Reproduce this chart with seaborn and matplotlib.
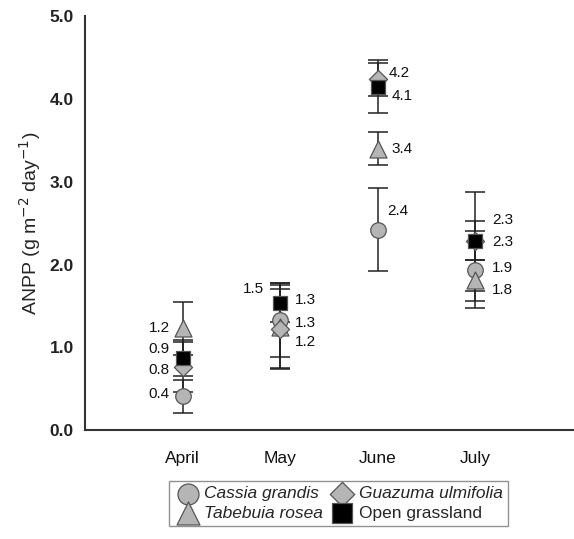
import numpy as np
import pandas as pd
import matplotlib
matplotlib.use("Agg")
import matplotlib.pyplot as plt
import seaborn as sns

months = ["April", "May", "June", "July"]
series = ["Cassia grandis", "Tabebuia rosea", "Guazuma ulmifolia", "Open grassland"]

# mean ANPP (g m-2 day-1) per month
cassia = [0.41, 1.33, 2.42, 1.94]
tabebuia = [1.23, 1.25, 3.40, 1.81]
guazuma = [0.76, 1.22, 4.24, 2.28]
grassland = [0.87, 1.54, 4.15, 2.29]

# error bar half widths
cassia_err = [0.20, 0.45, 0.50, 0.46]
tabebuia_err = [0.32, 0.50, 0.20, 0.25]
guazuma_err = [0.30, 0.48, 0.20, 0.60]
grassland_err = [0.22, 0.24, 0.32, 0.23]

# printed value labels
cassia_lbl = ["0.4", "1.3", "2.4", "1.9"]
tabebuia_lbl = ["1.2", "1.3", "3.4", "1.8"]
guazuma_lbl = ["0.8", "1.2", "4.2", "2.3"]
grassland_lbl = ["0.9", "1.5", "4.1", "2.3"]

# label offsets in pixels (dx, dy up)
cassia_off = [(-13, 2), (15, 20), (10, 19), (17, 2)]
tabebuia_off = [(-13, 0), (15, 4), (14, 0), (17, -10)]
guazuma_off = [(-13, -3), (15, -13), (11, 6), (17, 21)]
grassland_off = [(-13, 9), (-16, 14), (14, -9), (17, -1)]

rows = []
for name, vals, errs, lbls, offs in [
    ("Cassia grandis", cassia, cassia_err, cassia_lbl, cassia_off),
    ("Tabebuia rosea", tabebuia, tabebuia_err, tabebuia_lbl, tabebuia_off),
    ("Guazuma ulmifolia", guazuma, guazuma_err, guazuma_lbl, guazuma_off),
    ("Open grassland", grassland, grassland_err, grassland_lbl, grassland_off),
]:
    for i, m in enumerate(months):
        rows.append(dict(series=name, month=m, pos=i + 1, anpp=vals[i], err=errs[i],
                         lbl=lbls[i], dx=offs[i][0], dy=offs[i][1]))
df = pd.DataFrame(rows)

sns.set_style("white")
plt.rcParams["font.family"] = ["Liberation Sans", "DejaVu Sans"]

fig = plt.figure(figsize=(5.74, 5.39), dpi=100)
ax = fig.add_axes([0.148, 0.202, 0.850, 0.768])

# error bars first, markers on top
for _, r in df.iterrows():
    ax.errorbar(r["pos"], r["anpp"], yerr=r["err"], fmt="none", ecolor="#222222",
                elinewidth=1.1, capsize=7, capthick=1.1, zorder=1)

markers = {"Cassia grandis": "o", "Tabebuia rosea": "^",
           "Guazuma ulmifolia": "D", "Open grassland": "s"}
palette = {"Cassia grandis": "#b5b5b5", "Tabebuia rosea": "#b5b5b5",
           "Guazuma ulmifolia": "#b5b5b5", "Open grassland": "#000000"}
sizes = {"Cassia grandis": 125, "Tabebuia rosea": 150,
         "Guazuma ulmifolia": 85, "Open grassland": 115}

for name in series:
    sub = df[df["series"] == name]
    sns.scatterplot(data=sub, x="pos", y="anpp", marker=markers[name],
                    color=palette[name], s=sizes[name], edgecolor="#555555",
                    linewidth=0.9, ax=ax, zorder=3, label=name)

# value labels
for _, r in df.iterrows():
    ha = "right" if r["dx"] < 0 else "left"
    ax.annotate(r["lbl"], (r["pos"], r["anpp"]),
                xytext=(r["dx"] * 0.72, r["dy"] * 0.72), textcoords="offset points",
                ha=ha, va="center", fontsize=11, color="#111111")

ax.set_xlim(0, 5)
ax.set_ylim(0, 5)
ax.set_xticks(range(6))
ax.set_xticklabels([""] + months + [""], fontsize=12.5, color="#111111")
ax.set_yticks(np.arange(0, 5.01, 1.0))
ax.set_yticklabels([f"{v:.1f}" for v in np.arange(0, 5.01, 1.0)], fontsize=12.5,
                   fontweight="bold", color="#222222")
ax.tick_params(axis="x", length=3, width=1.2, color="#333333", pad=12)
ax.tick_params(axis="y", length=4, width=1.2, color="#333333", pad=4)
for s in ["top", "right"]:
    ax.spines[s].set_visible(False)
for s in ["left", "bottom"]:
    ax.spines[s].set_color("#333333")
    ax.spines[s].set_linewidth(1.5)
ax.set_xlabel("")
ax.set_ylabel("ANPP (g m$^{-2}$ day$^{-1}$)", fontsize=14, labelpad=5)

h, l = ax.get_legend_handles_labels()
ax.get_legend().remove()
leg = fig.legend(h, l, loc="upper center", bbox_to_anchor=(0.589, 0.108), ncol=2,
                 frameon=True, fancybox=False, edgecolor="#777777", fontsize=12.5,
                 handletextpad=0.15, columnspacing=0.3, labelspacing=0.25,
                 borderpad=0.3, markerscale=1.35, borderaxespad=0, handlelength=1.6)
leg.get_frame().set_linewidth(1.0)
for t in leg.get_texts():
    if t.get_text() != "Open grassland":
        t.set_style("italic")

fig.savefig("out.png", dpi=100, facecolor="white")
